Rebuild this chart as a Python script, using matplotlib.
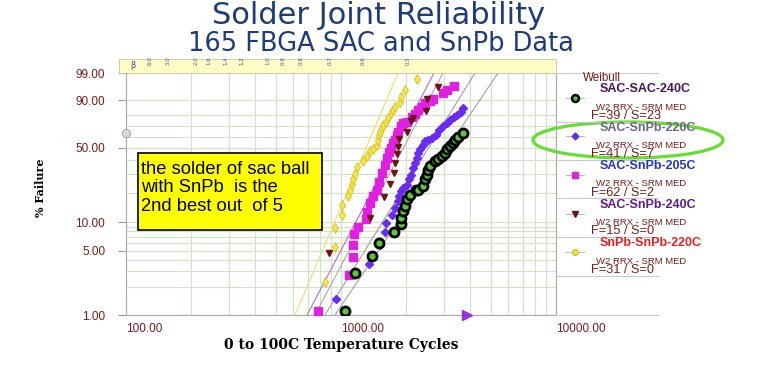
import numpy as np
import matplotlib
matplotlib.use("Agg")
import matplotlib.pyplot as plt
from matplotlib.lines import Line2D
from matplotlib.patches import Ellipse, Rectangle

# ---- data (cycles, % failure) ----
sacsac_t = [1044, 1158, 1398, 1502, 1770, 1895, 1901, 1949, 1985, 2034, 2094, 2233, 2288, 2399,
            2459, 2504, 2547, 2594, 2737, 2835, 2940, 3046, 3122, 3213, 3308, 3390, 3512, 3681]
sacsac_f = [1.1, 2.9, 4.4, 6.0, 7.8, 9.5, 11.1, 13.0, 14.6, 17.1, 19.1, 21.1, 21.4, 23.0,
            26.7, 29.7, 32.9, 35.7, 38.9, 40.7, 42.8, 45.6, 49.1, 51.9, 54.2, 57.3, 59.8, 63.5]

sac220_t = [945, 1354, 1518, 1602, 1619, 1721, 1783, 1847, 1867, 1895, 1936, 2021, 2078, 2117, 2156, 2210,
            2250, 2288, 2330, 2399, 2459, 2547, 2642, 2767, 2866, 2991, 3102, 3213, 3355, 3453, 3604, 3705]
sac220_f = [1.5, 3.6, 5.7, 7.8, 9.9, 12.0, 14.1, 16.4, 18.4, 20.6, 22.2, 23.9, 26.7, 29.7, 34.0, 37.6,
            41.5, 45.6, 49.1, 52.8, 55.7, 57.3, 58.9, 61.9, 65.9, 69.6, 72.6, 75.5, 77.8, 79.8, 82.4, 84.9]

sac205_t = [779, 1093, 1134, 1138, 1145, 1204, 1307, 1325, 1364, 1413, 1466, 1507, 1546, 1602, 1637, 1678, 1709,
            1740, 1783, 1816, 1847, 1895, 1949, 2021, 2133, 2210, 2288, 2373, 2459, 2594, 2670, 2972, 3122, 3355]
sac205_f = [1.1, 2.7, 4.3, 5.8, 7.5, 9.0, 10.7, 12.9, 15.6, 18.3, 21.4, 25.5, 30.9, 36.4, 41.7, 46.6, 50.1,
            54.5, 57.3, 61.9, 64.9, 69.6, 72.6, 74.0, 78.3, 80.5, 83.6, 86.0, 88.3, 89.9, 90.7, 93.7, 95.0, 96.4]

sac240_t = [882, 1364, 1585, 1690, 1764, 1783, 1816, 1847, 1867, 2034, 2117, 2170, 2485, 2504, 2835]
sac240_f = [4.7, 11.1, 18.2, 24.4, 30.7, 37.6, 45.0, 50.7, 57.9, 64.0, 74.7, 77.5, 83.1, 90.7, 96.2]

snpb_t = [842, 938, 938, 1008, 1008, 1081, 1101, 1121, 1141, 1162, 1183, 1269, 1317, 1364, 1413,
          1466, 1491, 1507, 1518, 1546, 1573, 1619, 1660, 1709, 1740, 1783, 1880, 1895, 1985, 2264]
snpb_f = [2.3, 5.5, 8.8, 12.0, 15.2, 18.4, 21.4, 24.4, 27.2, 30.3, 34.6, 38.9, 43.3, 46.9, 49.2,
          52.8, 57.3, 61.9, 64.9, 68.1, 71.1, 74.0, 77.0, 81.1, 83.6, 86.0, 89.3, 92.0, 95.0, 98.0]

# fitted lines: cycles at 1% and at 99%
fit_t1 = [938, 842, 695, 757, 611]
fit_t99 = [5375, 4200, 2708, 2981, 1841]

names = ["SAC-SAC-240C", "SAC-SnPb-220C", "SAC-SnPb-205C", "SAC-SnPb-240C", "SnPb-SnPb-220C"]
counts = ["F=39 / S=23", "F=41 / S=7", "F=62 / S=2", "F=15 / S=0", "F=31 / S=0"]

y_ticks = [1, 5, 10, 50, 90, 99]
y_grid = [2, 3, 4, 6, 7, 8, 9, 20, 30, 40, 60, 70, 80]
x_ticks = [100, 1000, 10000]
beta_labels = ["6.0", "3.0", "2.0", "1.6", "1.4", "1.2", "1.0", "0.9", "0.8", "0.7", "0.6", "0.5"]

W, H = 759, 376


def fx(px):
    return px / W


def fy(py):
    return 1 - py / H


def fwd(p):
    p = np.clip(np.asarray(p, dtype=float), 1e-6, 100 - 1e-6)
    return np.log(-np.log(1 - p / 100))


def inv(w):
    return 100 * (1 - np.exp(-np.exp(w)))


maroon = "#7a1a1a"
fig = plt.figure(figsize=(W / 100, H / 100), dpi=100)
ax = fig.add_axes([fx(126), fy(315), fx(556) - fx(126), fy(73) - fy(315)])
ax.set_xscale("log")
ax.set_yscale("function", functions=(fwd, inv))
ax.set_xlim(100, 10000)
ax.set_ylim(1, 99)

ax.set_yticks(y_ticks)
ax.set_yticklabels([f"{v:.2f}" for v in y_ticks], color=maroon, fontsize=8.5, family="Liberation Sans")
ax.set_yticks(y_grid, minor=True)
ax.set_xticks(x_ticks)
ax.set_xticklabels([f"{v:.2f}" for v in x_ticks], color=maroon, fontsize=8.5, family="Liberation Sans", ha="left")
ax.tick_params(axis="y", which="major", length=6, color="#999999", pad=9)
ax.tick_params(axis="x", which="major", length=0, pad=6)
ax.tick_params(which="minor", length=0)
ax.yaxis.set_minor_formatter(plt.NullFormatter())
ax.xaxis.set_minor_formatter(plt.NullFormatter())
ax.grid(True, which="both", color="#cfe0c6", lw=0.8)
ax.set_axisbelow(True)
for s in ["left", "bottom", "right"]:
    ax.spines[s].set_color("#a8a8a8")
    ax.spines[s].set_linewidth(0.8)
ax.spines["top"].set_visible(False)

# fit lines
fit_colors = ["#a0a0a0", "#a0a0a0", "#b070c0", "#a8a8a8", "#ece070"]
for t1, t99, c in zip(fit_t1, fit_t99, fit_colors):
    ax.plot([t1, t99], [1, 99], color=c, lw=0.8, zorder=2)

# data
ax.plot(snpb_t, snpb_f, "d", ms=5, mfc="#f4e64a", mec="#d8c020", mew=0.6, zorder=3)
ax.plot(sac205_t, sac205_f, "s", ms=5.5, color="#e020e0", zorder=3)
ax.plot(sac240_t, sac240_f, "v", ms=5, color="#6e1414", zorder=4)
ax.plot(sac220_t, sac220_f, "D", ms=4.5, color="#6a2cf2", zorder=4)
ax.plot(sacsac_t, sacsac_f, "o", ms=6.5, mfc="#58c838", mec="black", mew=2, zorder=5)
ax.plot([3855], [1], ">", ms=7, color="#9a30d8", clip_on=False, zorder=5)
ax.plot([100], [63.2], "o", ms=6, mfc="#d8d8d8", mec="#a0a0a0", mew=0.6, clip_on=False, zorder=5)

ax.set_xlabel("0 to 100C Temperature Cycles", family="DejaVu Serif", weight="bold", fontsize=10, labelpad=2)
fig.text(fx(40), fy(188), "% Failure", rotation=90, family="DejaVu Serif", weight="bold",
         fontsize=8, ha="center", va="center")

# beta band on top
band = fig.add_axes([fx(119), fy(73), fx(556) - fx(119), fy(59) - fy(73)])
band.set_facecolor("#fffcc4")
band.set_xticks([])
band.set_yticks([])
for s in band.spines.values():
    s.set_color("#c8c8a0")
    s.set_linewidth(0.6)
fig.text(fx(133), fy(66), "β", fontsize=6, color="#3050a0", ha="center", va="center")
beta_px = [150, 168, 196, 209, 226, 242, 268, 283, 301, 330, 363, 408]
for lab, px in zip(beta_labels, beta_px):
    fig.text(fx(px), fy(61), lab, rotation=90, fontsize=4, color="#3858a8", ha="center", va="center")

# titles
fig.text(fx(379), fy(24), "Solder Joint Reliability", fontsize=22, color="#1e3c78",
         ha="center", va="baseline")
fig.text(fx(381), fy(51), "165 FBGA SAC and SnPb Data", fontsize=18.5, color="#1e3c78",
         ha="center", va="baseline")

# yellow annotation box
fig.add_artist(Rectangle((fx(138), fy(230)), fx(322) - fx(138), fy(153) - fy(230),
                         transform=fig.transFigure, facecolor="#ffff00", edgecolor="black", lw=1.2))
fig.text(fx(141), fy(188), "the solder of sac ball\nwith SnPb  is the\n2nd best out  of 5",
         fontsize=13.2, family="Liberation Sans", ha="left", va="center", linespacing=1.1)

# legend panel
for py in [73, 122, 160, 198, 237, 276, 315]:
    fig.add_artist(Line2D([fx(556), fx(658)], [fy(py), fy(py)], color="#c8c8c8", lw=0.7))
fig.text(fx(583), fy(78), "Weibull", fontsize=8.4, color=maroon, family="Liberation Sans", va="center")

name_colors = ["#4a1262", "#6e6488", "#2236c8", "#5c1c8c", "#e82020"]
mk = [dict(marker="o", ms=5, mfc="#58c838", mec="black", mew=1.8),
      dict(marker="D", ms=3.5, color="#6a2cf2"),
      dict(marker="s", ms=4.5, color="#e020e0"),
      dict(marker="v", ms=4, color="#6e1414"),
      dict(marker="o", ms=4, mfc="#f4e64a", mec="#d8c020")]
for i, (nm, cnt) in enumerate(zip(names, counts)):
    top = 89 + i * 38.5
    fig.text(fx(600), fy(top), nm, fontsize=9, weight="bold", color=name_colors[i],
             family="Liberation Sans", va="center")
    fig.add_artist(Line2D([fx(566), fx(584)], [fy(top + 9), fy(top + 9)], color="#b0b0b0", lw=0.6))
    fig.add_artist(Line2D([fx(575)], [fy(top + 9)], lw=0, **mk[i]))
    fig.text(fx(596), fy(top + 18), "W2 RRX - SRM MED", fontsize=6.8, color=maroon,
             family="Liberation Sans", va="center")
    fig.text(fx(591), fy(top + 27), cnt, fontsize=9.2, color=maroon, family="Liberation Sans", va="center")

# green highlight ellipse
fig.add_artist(Ellipse((fx(628), fy(140)), fx(190), 36 / H, transform=fig.transFigure,
                       fill=False, edgecolor="#66dd33", lw=2.3))

fig.savefig("out.png", dpi=100)
